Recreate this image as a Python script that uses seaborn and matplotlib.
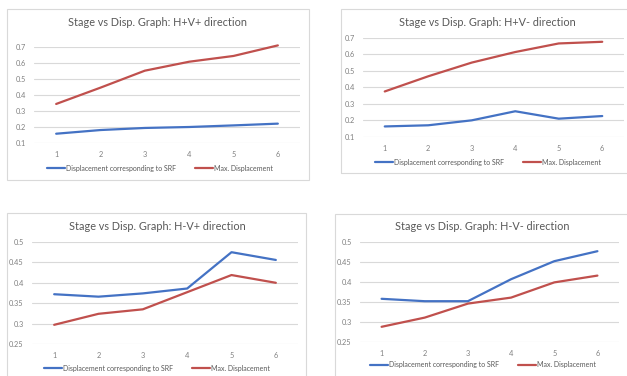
import matplotlib
matplotlib.use("Agg")
import matplotlib.pyplot as plt
from matplotlib.patches import Rectangle
from matplotlib.lines import Line2D
import seaborn as sns
import pandas as pd

stages = [1, 2, 3, 4, 5, 6]
series_names = ["Displacement corresponding to SRF", "Max. Displacement"]

titles = [
    "Stage vs Disp. Graph: H+V+ direction",
    "Stage vs Disp. Graph: H+V- direction",
    "Stage vs Disp. Graph: H-V+ direction",
    "Stage vs Disp. Graph: H-V- direction",
]

hvpp_srf = [0.158, 0.181, 0.194, 0.200, 0.210, 0.221]
hvpp_max = [0.344, 0.446, 0.552, 0.608, 0.644, 0.710]

hvpm_srf = [0.164, 0.171, 0.201, 0.256, 0.211, 0.227]
hvpm_max = [0.376, 0.468, 0.551, 0.615, 0.667, 0.677]

hvmp_srf = [0.372, 0.366, 0.374, 0.386, 0.475, 0.456]
hvmp_max = [0.297, 0.324, 0.335, 0.377, 0.419, 0.400]

hvmm_srf = [0.358, 0.352, 0.352, 0.407, 0.452, 0.477]
hvmm_max = [0.288, 0.311, 0.346, 0.361, 0.399, 0.416]

yticks_top = [0.1, 0.2, 0.3, 0.4, 0.5, 0.6, 0.7]
yticks_bottom = [0.25, 0.3, 0.35, 0.4, 0.45, 0.5]
ytick_labels_top = ["0.1", "0.2", "0.3", "0.4", "0.5", "0.6", "0.7"]
ytick_labels_bottom = ["0.25", "0.3", "0.35", "0.4", "0.45", "0.5"]

BLUE = "#4472C4"
RED = "#C0504D"
GRID = "#D9D9D9"
TXT = "#595959"
TICK = "#808080"

sns.set_theme(style="white")
plt.rcParams["font.family"] = ["Lato", "DejaVu Sans"]

W, H = 627, 376
fig = plt.figure(figsize=(W / 100, H / 100), dpi=100)
fig.patch.set_facecolor("white")


def fx(px):
    return px / W


def fy(py):
    return 1 - py / H


panels = [
    dict(border=(7, 9, 309, 180), ax=(34, 47, 300, 143), title=(158, 22), leg=(160, 168),
         srf=hvpp_srf, mx=hvpp_max, yt=yticks_top, ytl=ytick_labels_top, ylim=(0.1, 0.7)),
    dict(border=(341, 9, 640, 173), ax=(363, 38, 624, 137), title=(487, 23), leg=(488, 162),
         srf=hvpm_srf, mx=hvpm_max, yt=yticks_top, ytl=ytick_labels_top, ylim=(0.1, 0.7)),
    dict(border=(7, 213, 306, 400), ax=(32, 242, 298, 344), title=(157, 226), leg=(157, 368),
         srf=hvmp_srf, mx=hvmp_max, yt=yticks_bottom, ytl=ytick_labels_bottom, ylim=(0.25, 0.5)),
    dict(border=(335, 214, 640, 400), ax=(360, 242, 619, 342), title=(482, 226), leg=(483, 365),
         srf=hvmm_srf, mx=hvmm_max, yt=yticks_bottom, ytl=ytick_labels_bottom, ylim=(0.25, 0.5)),
]

for p, title in zip(panels, titles):
    bx0, by0, bx1, by1 = p["border"]
    fig.patches.append(Rectangle((fx(bx0), fy(by1)), fx(bx1 - bx0), (by1 - by0) / H,
                                 transform=fig.transFigure, fill=False,
                                 edgecolor=GRID, linewidth=0.8, zorder=0))
    ax0, ay0, ax1, ay1 = p["ax"]
    ax = fig.add_axes([fx(ax0), fy(ay1), fx(ax1 - ax0), (ay1 - ay0) / H])
    ax.set_facecolor("none")
    df = pd.DataFrame({
        "Stage": stages * 2,
        "Disp": p["srf"] + p["mx"],
        "Series": [series_names[0]] * 6 + [series_names[1]] * 6,
    })
    sns.lineplot(data=df, x="Stage", y="Disp", hue="Series",
                 palette=[BLUE, RED], linewidth=1.6, ax=ax, legend=False)
    for ln in ax.get_lines():
        ln.set_clip_on(False)
    ax.set_xlim(0.5, 6.5)
    ax.set_ylim(*p["ylim"])
    ax.set_xticks(stages)
    ax.set_xticklabels([str(s) for s in stages])
    ax.set_yticks(p["yt"])
    ax.set_yticklabels(p["ytl"])
    ax.grid(axis="y", color=GRID, linewidth=0.8)
    ax.set_axisbelow(True)
    for s in ax.spines.values():
        s.set_visible(False)
    ax.tick_params(axis="both", length=0, labelsize=5.3, colors=TICK, pad=6)
    ax.set_xlabel("")
    ax.set_ylabel("")
    fig.text(fx(p["title"][0]), fy(p["title"][1]), title, ha="center", va="center",
             fontsize=7.8, color=TXT)
    handles = [Line2D([0], [0], color=BLUE, lw=1.6), Line2D([0], [0], color=RED, lw=1.6)]
    fig.legend(handles, series_names, loc="center",
               bbox_to_anchor=(fx(p["leg"][0]), fy(p["leg"][1])),
               ncol=2, frameon=False, fontsize=5, labelcolor=TXT,
               handlelength=2.6, handletextpad=0.1, columnspacing=2.8,
               borderpad=0, borderaxespad=0)

fig.savefig("out.png", dpi=100, facecolor="white")
